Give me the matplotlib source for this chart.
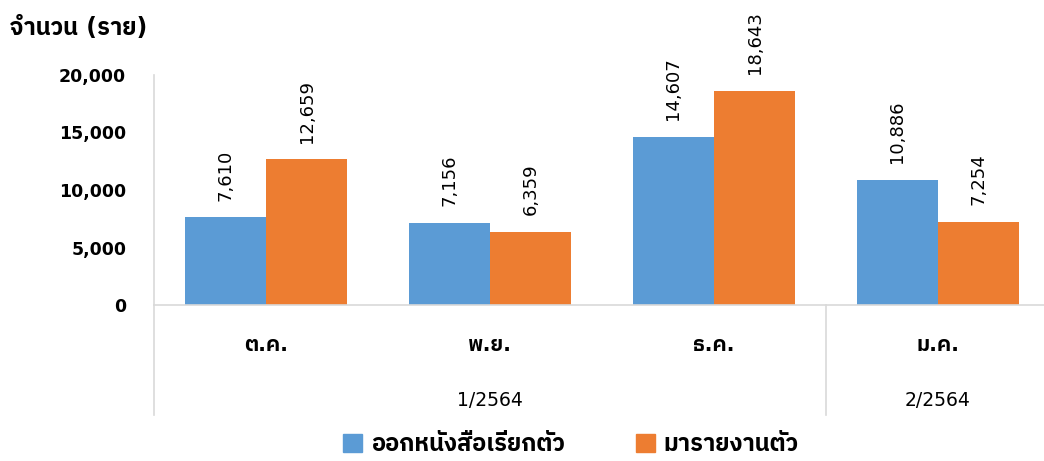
import matplotlib
matplotlib.use("Agg")
import matplotlib.pyplot as plt
from matplotlib import font_manager
from matplotlib.patches import Patch
import matplotlib.transforms as mtransforms
import numpy as np

# --- data ---------------------------------------------------------------
months = ["ต.ค.", "พ.ย.", "ธ.ค.", "ม.ค."]
summoned = [7610, 7156, 14607, 10886]      # ออกหนังสือเรียกตัว
reported = [12659, 6359, 18643, 7254]      # มารายงานตัว
series_names = ["ออกหนังสือเรียกตัว", "มารายงานตัว"]
periods = ["1/2564", "2/2564"]
period_span = [(0, 2), (3, 3)]
y_ticks = [0, 5000, 10000, 15000, 20000]
y_title = "จำนวน (ราย)"

BLUE = "#5B9BD5"
ORANGE = "#ED7D31"
LINE = "#D9D9D9"


def find_thai_font():
    # look for an installed font that actually has Thai glyphs
    try:
        from fontTools.ttLib import TTFont
    except ImportError:
        return None
    found = []
    for f in font_manager.fontManager.ttflist:
        try:
            tt = TTFont(f.fname, fontNumber=0, lazy=True)
            cmap = tt.getBestCmap() or {}
            if 0x0E08 in cmap and 0x0E33 in cmap:
                found.append(f.name)
        except Exception:
            continue
    if not found:
        return None
    pref = [n for n in found if "Thai" in n and "Looped" not in n]
    return (pref or found)[0]


thai = find_thai_font()
# digits and punctuation from DejaVu (Tahoma-like), Thai from the fallback
families = ["DejaVu Sans"] + ([thai] if thai else [])
plt.rcParams["font.family"] = families

fig = plt.figure(figsize=(10.44, 4.61), dpi=100)
W, H = 1044, 461
left, right, top, bottom = 154, 1050, 75, 305
ax = fig.add_axes([left / W, 1 - bottom / H, (right - left) / W, (bottom - top) / H])

x = np.arange(len(months))
bw = 0.362
b1 = ax.bar(x - bw / 2, summoned, bw, color=BLUE, label=series_names[0])
b2 = ax.bar(x + bw / 2, reported, bw, color=ORANGE, label=series_names[1])

for bars, vals in ((b1, summoned), (b2, reported)):
    for r, v in zip(bars, vals):
        ax.annotate(f"{v:,}", (r.get_x() + r.get_width() / 2, v),
                    xytext=(0, 12), textcoords="offset points",
                    rotation=90, ha="center", va="bottom", fontsize=13,
                    color="#000000")

ax.set_xlim(-0.5, len(months) - 0.5)
ax.set_ylim(0, 20000)
ax.set_yticks(y_ticks)
ax.set_yticklabels([f"{t:,}" for t in y_ticks], fontsize=12.5, fontweight="bold")
ax.tick_params(axis="y", length=0, pad=20)
ax.set_xticks([])

for s in ("top", "right"):
    ax.spines[s].set_visible(False)
ax.spines["left"].set_color(LINE)
ax.spines["bottom"].set_color(LINE)
ax.spines["left"].set_linewidth(1.2)
ax.spines["bottom"].set_linewidth(1.2)

# two-level category axis
trans = mtransforms.blended_transform_factory(ax.transData, ax.transAxes)
px = 1.0 / (bottom - top)
for i, m in enumerate(months):
    ax.text(i, -(345 - bottom) * px, m, transform=trans, ha="center", va="center",
            fontsize=15, fontweight="bold")
for (a, b), p in zip(period_span, periods):
    ax.text((a + b) / 2, -(400 - bottom) * px, p, transform=trans, ha="center",
            va="center", fontsize=13.5)
for xs in (-0.5, 2.5):
    ax.plot([xs, xs], [0, -(415 - bottom) * px], transform=trans, color=LINE,
            lw=1.2, clip_on=False)

fig.text(10 / W, 1 - 28 / H, y_title, ha="left", va="center", fontsize=17,
         fontweight="bold")

handles = [Patch(color=BLUE), Patch(color=ORANGE)]
fig.legend(handles, series_names, loc="center", bbox_to_anchor=(571 / W, 1 - 444 / H),
           ncol=2, frameon=False, prop={"size": 17, "weight": "bold"},
           handlelength=0.8, handleheight=0.8, handletextpad=0.38, columnspacing=3.0)

fig.savefig("out.png", dpi=100)
